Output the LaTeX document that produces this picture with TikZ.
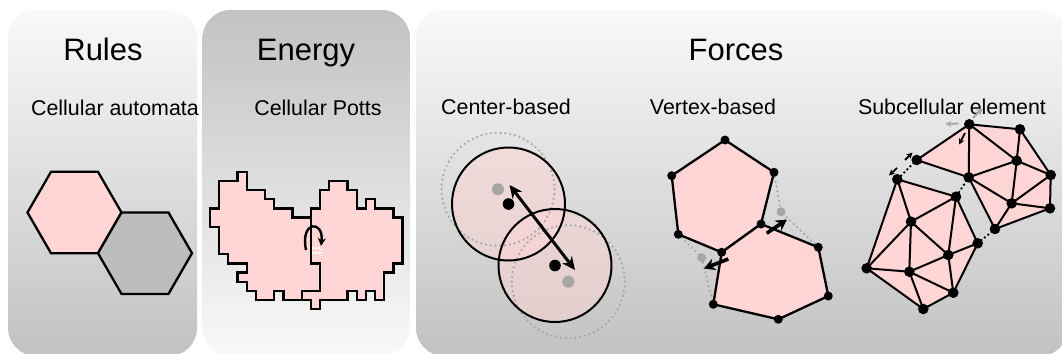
\documentclass[tikz,border=0pt]{standalone}
\usepackage{fontspec}
\setmainfont{Liberation Sans}
\usetikzlibrary{arrows.meta}
\definecolor{cellpink}{RGB}{255,213,213}
\definecolor{cellgray}{RGB}{189,189,189}
\definecolor{panellight}{RGB}{249,249,249}
\definecolor{paneldark}{RGB}{194,194,194}
\definecolor{ghostgray}{RGB}{165,165,165}

\begin{document}
\begin{tikzpicture}[
  x=0.5pt,y=-0.5pt,
  panel/.style={rounded corners=14pt},
  heading/.style={font=\fontsize{15.5}{18}\selectfont,anchor=base,inner sep=0pt},
  subhead/.style={font=\fontsize{10.7}{13}\selectfont,anchor=base,inner sep=0pt},
  wall/.style={draw=black,line width=1.15pt},
  meshline/.style={line width=1pt,line join=round},
  ghost/.style={ghostgray,line width=1.2pt,line cap=round,dash pattern=on 0pt off 2.4pt},
  link/.style={black,line width=1.3pt,line cap=round,dash pattern=on 0pt off 2.2pt},
  push/.style={{Stealth[length=6.5pt,width=6pt]}-{Stealth[length=6.5pt,width=6pt]},line width=1.5pt},
  shove/.style={-{Stealth[length=5.5pt,width=6pt]},line width=1.8pt},
  nudge/.style={-{Stealth[length=3pt,width=3pt]},line width=0.9pt}
]
\clip (0,0) rectangle (1062,354);
\fill[white] (0,0) rectangle (1062,354);

% three panels
\shade[panel,top color=panellight,bottom color=paneldark] (8,10) rectangle (197,356);
\shade[panel,top color=paneldark,bottom color=panellight] (202.5,10) rectangle (410,356);
\shade[panel,top color=panellight,bottom color=paneldark] (416,10) rectangle (1068,356);

\node[heading] (rules) at (103,60) {Rules};
\node[heading] (energy) at (306,60) {Energy};
\node[heading] (forces) at (736,60) {Forces};

\node[subhead] (ca) at (115,115) {Cellular automata};
\node[subhead] (cpm) at (318,115) {Cellular Potts};
\node[subhead] (cbm) at (506,114) {Center-based};
\node[subhead] (vbm) at (713,114) {Vertex-based};
\node[subhead] (sem) at (952,114) {Subcellular element};

% cellular automata: two hexagonal sites
\coordinate (hex1) at (74.5,212.5);
\coordinate (hex2) at (145,253.2);
\draw[wall,fill=cellpink] (hex1) +(0:47) -- +(60:47) -- +(120:47) -- +(180:47) -- +(240:47) -- +(300:47) -- cycle;
\draw[wall,fill=cellgray] (hex2) +(0:47) -- +(60:47) -- +(120:47) -- +(180:47) -- +(240:47) -- +(300:47) -- cycle;

% cellular Potts: two lattice cells
\begin{scope}[shift={(210,171.7)},x=4.585pt,y=-4.585pt]
\draw[wall,fill=cellpink] (3,0) -| (4,2) -| (6,3) -| (7,4) -| (9,5) -| (11,10) -| (12,13)
  -| (10,14) -| (8,13) -| (7,14) -| (5,13) -| (4,12) -| (3,11) -| (4,10) -| (2,9)
  -| (1,6) -| (0,4) -| (1,1) -| (3,0) -- cycle;
\draw[wall,fill=cellpink] (11,4) -| (12,2) -| (13,1) -| (15,2) -| (16,4) -| (17,3) -| (18,4)
  -| (20,5) -| (21,10) -| (20,11) -| (19,14) -| (18,13) -| (17,14) -| (16,13) -| (15,14)
  -| (12,15) -| (11,14) -| (10,13) -| (12,10) -| (11,4) -- cycle;
\end{scope}
\draw[white,line width=0.6pt,dash pattern=on 0.8pt off 0.8pt] (312,248) -| (321,256) (312,253) -- (321,253);
\coordinate (flip1) at (306,250);
\coordinate (flip2) at (321,246);
\draw[line width=1.2pt,-{Stealth[length=4pt,width=4pt]}] (flip1) .. controls (300,220) and (324,220) .. (flip2);

% center-based: overlapping spheres
\coordinate (old1) at (498,189.3);
\coordinate (old2) at (568.3,281.7);
\coordinate (new1) at (508.5,204);
\coordinate (new2) at (555,265.5);
\fill[cellpink,fill opacity=0.5] (new1) circle[radius=56.5];
\fill[cellpink,fill opacity=0.5] (new2) circle[radius=56.5];
\draw[ghost] (old1) circle[radius=56.5] (old2) circle[radius=56.5];
\draw[line width=1pt] (new1) circle[radius=56.5] (new2) circle[radius=56.5];
\fill[ghostgray] (old1) circle (6) (old2) circle (6);
\fill (new1) circle (5.8) (new2) circle (5.8);
\coordinate (push1) at (509.5,185);
\coordinate (push2) at (575,270);
\draw[push] (push1) -- (push2);

% vertex-based: two polygons sharing an edge
\foreach \n/\x/\y in {t1/725/140, t2/774/172.3, t3/761/224, t4/721.7/252.3, t5/678.3/234.3,
  t6/671.7/175.7, b1/818.3/247.3, b2/828.3/296, b3/778.3/319.3, b4/713.3/304.3}
  \coordinate (\n) at (\x,\y);
\coordinate (g1) at (781,211.7);
\coordinate (g2) at (701.7,257.7);
\draw[ghost] (t2) -- (g1) -- (b1) (t5) -- (g2) -- (b4);
\fill[ghostgray] (g1) circle (4.5) (g2) circle (4.5);
\draw[wall,fill=cellpink,line join=round] (t1) -- (t2) -- (t3) -- (t4) -- (t5) -- (t6) -- cycle;
\draw[wall,fill=cellpink,line join=round] (t3) -- (b1) -- (b2) -- (b3) -- (b4) -- (t4) -- cycle;
\foreach \n in {t1,t2,t3,t4,t5,t6,b1,b2,b3,b4}
  \fill (\n) circle (4.5);
\coordinate (f1a) at (766.7,233.3);
\coordinate (f1b) at (787,219.5);
\coordinate (f2a) at (728.3,259);
\coordinate (f2b) at (704,268.5);
\draw[shove] (f1a) -- (f1b);
\draw[shove] (f2a) -- (f2b);

% subcellular element: triangulated cells
\foreach \n/\x/\y in {u1/916.7/160, u2/969.3/124.3, u3/1020/129.3, u4/1050.7/175,
  u5/1050/208.3, u6/995/229, u7/968.7/177.3, u8/1016.7/160.7, u9/1011.7/203.3,
  w1/897.3/179.3, w2/956/196.7, w3/977.7/243.3, w4/953.3/292.7, w5/923.3/309,
  w6/866.7/268.3, w7/911/221.7, w8/948.3/255, w9/909.3/271.7}
  \coordinate (\n) at (\x,\y);
\fill[cellpink] (u1) -- (u2) -- (u3) -- (u4) -- (u5) -- (u6) -- (u7) -- cycle;
\fill[cellpink] (w1) -- (w2) -- (w3) -- (w4) -- (w5) -- (w6) -- cycle;
\draw[meshline] (u1) -- (u2) -- (u3) -- (u4) -- (u5) -- (u6) -- (u7) -- cycle;
\draw[meshline] (w1) -- (w2) -- (w3) -- (w4) -- (w5) -- (w6) -- cycle;
\foreach \a/\b in {u2/u7, u2/u8, u3/u8, u8/u4, u8/u7, u8/u9, u9/u4, u9/u5, u9/u6, u9/u7,
  w1/w7, w2/w7, w2/w8, w7/w8, w7/w6, w7/w9, w6/w9, w9/w8, w8/w3, w8/w4, w9/w4, w9/w5}
  \draw[meshline] (\a) -- (\b);
\draw[link] (u1) -- (w1) (u7) -- (w2) (u6) -- (w3);
\foreach \n in {u1,u2,u3,u4,u5,u6,u7,u8,u9,w1,w2,w3,w4,w5,w6,w7,w8,w9}
  \fill (\n) circle (5.3);
\coordinate (n1a) at (905,160);
\coordinate (n1b) at (912.5,152.5);
\coordinate (n2a) at (897,168);
\coordinate (n2b) at (889,175.5);
\coordinate (n3a) at (965,133);
\coordinate (n3b) at (959,144.5);
\draw[nudge] (n1a) -- (n1b);
\draw[nudge] (n2a) -- (n2b);
\draw[nudge] (n3a) -- (n3b);
\coordinate (n4a) at (958.5,123.5);
\coordinate (n4b) at (945.5,124);
\coordinate (n5a) at (973,118);
\coordinate (n5b) at (982.5,108.5);
\draw[nudge,ghostgray] (n4a) -- (n4b);
\draw[nudge,ghostgray] (n5a) -- (n5b);
\end{tikzpicture}
\end{document}
